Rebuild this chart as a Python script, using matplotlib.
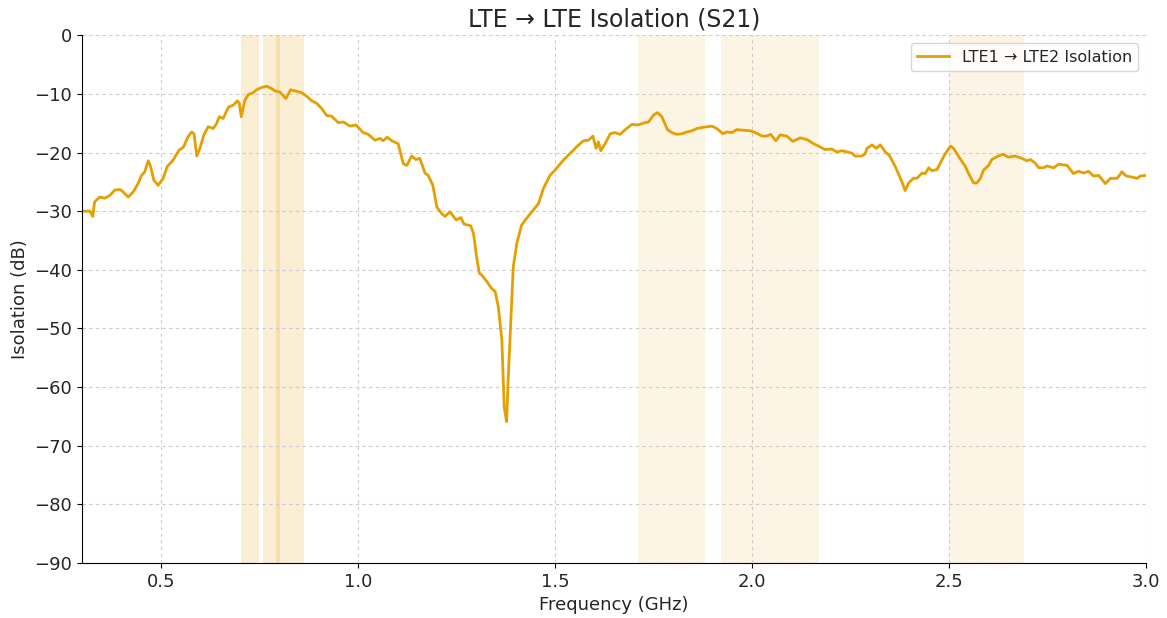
import matplotlib
matplotlib.use("Agg")
import matplotlib.pyplot as plt
import numpy as np

freq_ghz = [
    0.300, 0.320, 0.327, 0.332, 0.345, 0.358, 0.371, 0.383, 0.396, 0.404,
    0.417, 0.430, 0.442, 0.451, 0.459, 0.468, 0.474, 0.482, 0.493, 0.506,
    0.516, 0.531, 0.546, 0.557, 0.569, 0.578, 0.584, 0.591, 0.599, 0.609,
    0.620, 0.633, 0.641, 0.648, 0.658, 0.671, 0.684, 0.694, 0.699, 0.704,
    0.713, 0.722, 0.734, 0.743, 0.756, 0.768, 0.781, 0.789, 0.802, 0.817,
    0.829, 0.840, 0.857, 0.870, 0.883, 0.895, 0.908, 0.921, 0.933, 0.950,
    0.963, 0.980, 0.995, 1.013, 1.026, 1.043, 1.056, 1.064, 1.074, 1.086,
    1.102, 1.115, 1.124, 1.136, 1.147, 1.157, 1.170, 1.178, 1.190, 1.200,
    1.212, 1.221, 1.233, 1.249, 1.261, 1.269, 1.286, 1.293, 1.301, 1.308,
    1.314, 1.327, 1.339, 1.348, 1.356, 1.365, 1.371, 1.377, 1.381, 1.388,
    1.394, 1.403, 1.415, 1.428, 1.445, 1.458, 1.470, 1.487, 1.500, 1.521,
    1.542, 1.555, 1.572, 1.585, 1.596, 1.604, 1.610, 1.616, 1.627, 1.640,
    1.652, 1.665, 1.678, 1.695, 1.711, 1.728, 1.737, 1.750, 1.760, 1.771,
    1.785, 1.796, 1.809, 1.822, 1.834, 1.847, 1.860, 1.876, 1.898, 1.910,
    1.926, 1.936, 1.949, 1.961, 1.978, 1.995, 2.008, 2.025, 2.037, 2.047,
    2.060, 2.071, 2.088, 2.103, 2.122, 2.139, 2.156, 2.168, 2.185, 2.202,
    2.215, 2.228, 2.253, 2.261, 2.278, 2.287, 2.291, 2.304, 2.315, 2.325,
    2.338, 2.348, 2.363, 2.380, 2.388, 2.397, 2.409, 2.418, 2.431, 2.439,
    2.448, 2.456, 2.469, 2.481, 2.490, 2.503, 2.511, 2.524, 2.541, 2.549,
    2.562, 2.570, 2.579, 2.587, 2.600, 2.608, 2.621, 2.636, 2.650, 2.667,
    2.684, 2.697, 2.706, 2.718, 2.727, 2.739, 2.748, 2.765, 2.777, 2.799,
    2.815, 2.828, 2.841, 2.853, 2.866, 2.879, 2.896, 2.909, 2.926, 2.938,
    2.949, 2.964, 2.977, 2.985, 3.000,
]
s21_db = [
    -30.0, -30.0, -30.9, -28.4, -27.6, -27.8, -27.3, -26.4, -26.3, -26.7,
    -27.6, -26.7, -25.3, -23.9, -23.3, -21.4, -22.4, -24.7, -25.6, -24.4,
    -22.4, -21.3, -19.6, -19.1, -17.3, -16.5, -16.8, -20.6, -19.3, -17.0,
    -15.6, -15.9, -15.1, -13.9, -14.2, -12.3, -11.9, -11.2, -11.6, -13.9,
    -11.1, -10.1, -9.8, -9.3, -8.9, -8.7, -9.1, -9.5, -9.7, -10.8,
    -9.3, -9.5, -9.8, -10.4, -11.2, -11.6, -12.5, -13.7, -13.8, -14.9,
    -14.8, -15.5, -15.3, -16.6, -16.9, -17.9, -17.6, -18.0, -17.4, -18.0,
    -18.5, -21.9, -22.2, -20.6, -21.2, -21.0, -23.5, -23.9, -25.6, -29.3,
    -30.4, -30.9, -30.1, -31.5, -31.1, -32.2, -32.5, -33.8, -37.8, -40.6,
    -40.9, -42.0, -43.2, -43.7, -46.3, -52.0, -63.4, -65.9, -58.8, -48.6,
    -39.5, -35.5, -32.4, -31.2, -29.8, -28.7, -26.2, -23.9, -23.0, -21.3,
    -19.9, -19.0, -18.0, -17.9, -17.2, -19.3, -18.2, -19.7, -18.5, -16.8,
    -16.6, -16.9, -16.1, -15.2, -15.3, -14.9, -14.8, -13.6, -13.2, -13.9,
    -16.1, -16.6, -16.9, -16.8, -16.5, -16.3, -15.9, -15.7, -15.5, -15.9,
    -16.8, -16.5, -16.6, -16.1, -16.2, -16.3, -16.6, -17.2, -17.2, -16.9,
    -18.0, -17.0, -17.2, -18.1, -17.5, -17.8, -18.5, -18.9, -19.5, -19.4,
    -19.9, -19.7, -20.1, -20.6, -20.6, -20.2, -19.3, -18.7, -19.3, -18.7,
    -19.9, -20.5, -22.4, -25.0, -26.5, -25.2, -24.4, -24.4, -23.5, -23.6,
    -22.6, -23.1, -22.9, -21.3, -20.2, -18.9, -19.3, -20.7, -22.4, -23.6,
    -25.2, -25.2, -24.4, -23.0, -22.2, -21.2, -20.7, -20.3, -20.8, -20.6,
    -21.0, -21.4, -21.2, -21.8, -22.6, -22.6, -22.3, -22.6, -22.0, -22.2,
    -23.6, -23.2, -23.5, -23.2, -24.0, -23.9, -25.3, -24.4, -24.4, -23.3,
    -24.0, -24.2, -24.4, -24.0, -23.9,
]

# LTE bands (GHz)
low_bands = [(0.703, 0.748), (0.758, 0.803), (0.791, 0.862)]
high_bands = [(1.71, 1.88), (1.92, 2.17), (2.50, 2.69)]

line_color = "#E69F00"
text_color = "#262626"

fig = plt.figure(figsize=(11.67, 6.18), dpi=100)
ax = fig.add_axes([0.0703, 0.089, 0.912, 0.854])

for lo, hi in low_bands:
    ax.axvspan(lo, hi, color=line_color, alpha=0.17, lw=0)
for lo, hi in high_bands:
    ax.axvspan(lo, hi, color=line_color, alpha=0.10, lw=0)

ax.plot(freq_ghz, s21_db, color=line_color, lw=2, label="LTE1 → LTE2 Isolation")

ax.set_xlim(0.3, 3.0)
ax.set_ylim(-90, 0)
ax.set_xticks([0.5, 1.0, 1.5, 2.0, 2.5, 3.0])
ax.set_yticks(np.arange(-90, 1, 10))
ax.tick_params(labelsize=13, labelcolor=text_color)
ax.grid(True, ls=(0, (3, 3)), color="#cccccc", lw=0.8)
ax.spines["top"].set_visible(False)
ax.spines["right"].set_visible(False)

ax.set_title("LTE → LTE Isolation (S21)", fontsize=17, color=text_color)
ax.set_xlabel("Frequency (GHz)", fontsize=13, color=text_color)
ax.set_ylabel("Isolation (dB)", fontsize=13, color=text_color)
leg = ax.legend(loc="upper right", fontsize=11.5)
for t in leg.get_texts():
    t.set_color(text_color)

fig.savefig("out.png", dpi=100)
